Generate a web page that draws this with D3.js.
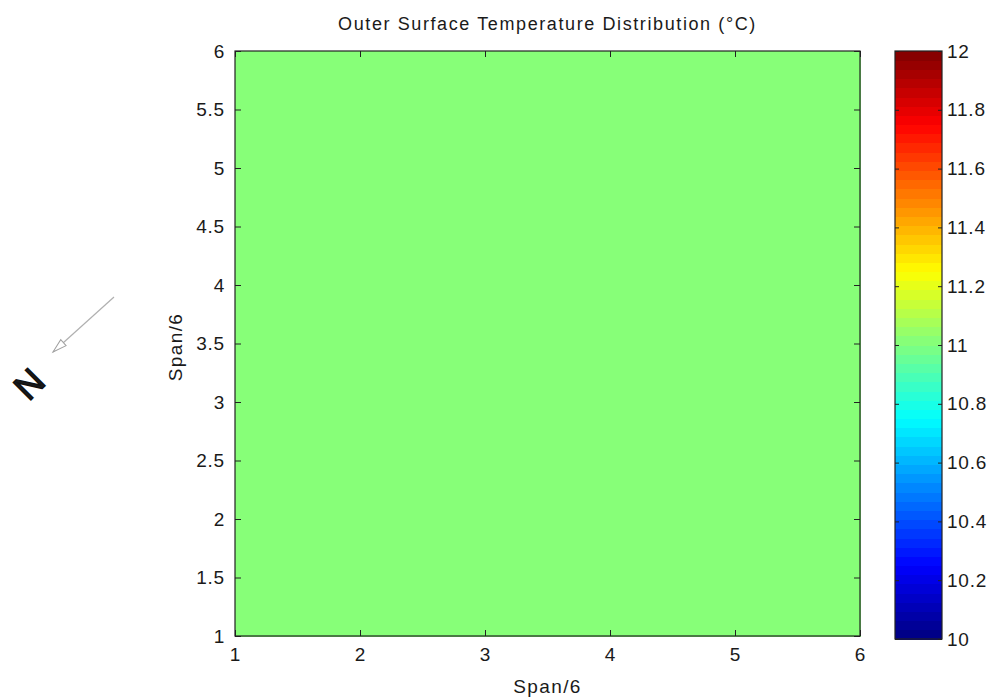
<!DOCTYPE html>
<html>
<head>
<meta charset="utf-8">
<script src="https://cdn.jsdelivr.net/npm/d3@7/dist/d3.min.js"></script>
<style>
  html, body { margin: 0; padding: 0; background: #fff; }
  svg { display: block; }
  text { font-family: Arial, "Liberation Sans", sans-serif; fill: #1a1a1a; }
</style>
</head>
<body>
<svg id="chart" width="994" height="700"></svg>
<script>
// Grid node positions (span / 6) and surface temperatures at each node (°C)
const spanX = [1, 2, 3, 4, 5, 6];
const spanY = [1, 2, 3, 4, 5, 6];
const temps = [
  [11.02, 11.02, 11.02, 11.02, 11.02, 11.02],
  [11.02, 11.02, 11.02, 11.02, 11.02, 11.02],
  [11.02, 11.02, 11.02, 11.02, 11.02, 11.02],
  [11.02, 11.02, 11.02, 11.02, 11.02, 11.02],
  [11.02, 11.02, 11.02, 11.02, 11.02, 11.02],
  [11.02, 11.02, 11.02, 11.02, 11.02, 11.02]
];
const xTicks = [1, 2, 3, 4, 5, 6];
const yTicks = [1, 1.5, 2, 2.5, 3, 3.5, 4, 4.5, 5, 5.5, 6];
const cTicks = [10, 10.2, 10.4, 10.6, 10.8, 11, 11.2, 11.4, 11.6, 11.8, 12];
const cLimits = [10, 12];

const svg = d3.select("#chart");
const FONT = "Arial, 'Liberation Sans', sans-serif";

// 64-step jet colormap
const nColors = 64;
function jet(t) {
  const c = v => Math.max(0, Math.min(1, v));
  const r = c(1.5 - Math.abs(4 * t - 3));
  const g = c(1.5 - Math.abs(4 * t - 2));
  const b = c(1.5 - Math.abs(4 * t - 1));
  return d3.rgb(r * 255, g * 255, b * 255).formatHex();
}
const jetTable = d3.range(nColors).map(i => jet((i + 0.5) / nColors));
const colorOf = v => {
  let i = Math.floor((v - cLimits[0]) / (cLimits[1] - cLimits[0]) * nColors);
  i = Math.max(0, Math.min(nColors - 1, i));
  return jetTable[i];
};

const x = d3.scaleLinear().domain([1, 6]).range([235, 860]);
const y = d3.scaleLinear().domain([1, 6]).range([636, 51]);
const cScale = d3.scaleLinear().domain(cLimits).range([639, 51]);

// pcolor-style cells: each cell takes the value at its lower-left node
const cells = [];
for (let j = 0; j < spanY.length - 1; j++) {
  for (let i = 0; i < spanX.length - 1; i++) {
    cells.push({ x0: spanX[i], x1: spanX[i + 1], y0: spanY[j], y1: spanY[j + 1], v: temps[j][i] });
  }
}
svg.append("g").selectAll("rect").data(cells).join("rect")
  .attr("x", d => x(d.x0))
  .attr("y", d => y(d.y1))
  .attr("width", d => x(d.x1) - x(d.x0) + 0.5)
  .attr("height", d => y(d.y0) - y(d.y1) + 0.5)
  .attr("fill", d => colorOf(d.v))
  .attr("shape-rendering", "crispEdges");

// Axes with inward ticks on all four sides
const tickLen = 6;
const axisStyle = g => {
  g.select(".domain").remove();
  g.selectAll(".tick line").attr("stroke", "#222");
  g.selectAll(".tick text").attr("font-size", 19).attr("fill", "#1a1a1a")
    .attr("letter-spacing", "0.8px")
    .attr("font-family", FONT);
};
svg.append("g").attr("transform", `translate(0,${y(1)})`)
  .call(d3.axisBottom(x).tickValues(xTicks).tickFormat(d3.format("d"))
    .tickSizeInner(-tickLen).tickSizeOuter(0).tickPadding(12))
  .call(axisStyle);
svg.append("g").attr("transform", `translate(0,${y(6)})`)
  .call(d3.axisTop(x).tickValues(xTicks).tickFormat("")
    .tickSizeInner(-tickLen).tickSizeOuter(0))
  .call(axisStyle);
svg.append("g").attr("transform", `translate(${x(1)},0)`)
  .call(d3.axisLeft(y).tickValues(yTicks).tickFormat(d3.format("~g"))
    .tickSizeInner(-tickLen).tickSizeOuter(0).tickPadding(10))
  .call(axisStyle);
svg.append("g").attr("transform", `translate(${x(6)},0)`)
  .call(d3.axisRight(y).tickValues(yTicks).tickFormat("")
    .tickSizeInner(-tickLen).tickSizeOuter(0))
  .call(axisStyle);

svg.append("rect")
  .attr("x", x(1)).attr("y", y(6))
  .attr("width", x(6) - x(1)).attr("height", y(1) - y(6))
  .attr("fill", "none").attr("stroke", "#222").attr("stroke-width", 1.2);

// Colorbar
const cbX = 895, cbW = 47;
const bands = d3.range(nColors);
const bandH = (cScale(cLimits[0]) - cScale(cLimits[1])) / nColors;
svg.append("g").selectAll("rect").data(bands).join("rect")
  .attr("x", cbX)
  .attr("y", i => cScale(cLimits[0] + (i + 1) * (cLimits[1] - cLimits[0]) / nColors))
  .attr("width", cbW)
  .attr("height", bandH + 0.6)
  .attr("fill", i => jetTable[i])
  .attr("shape-rendering", "crispEdges");

svg.append("g").attr("transform", `translate(${cbX + cbW},0)`)
  .call(d3.axisRight(cScale).tickValues(cTicks).tickFormat(d3.format("~g"))
    .tickSizeInner(-4).tickSizeOuter(0).tickPadding(5))
  .call(axisStyle);
svg.append("g").attr("transform", `translate(${cbX},0)`)
  .call(d3.axisLeft(cScale).tickValues(cTicks).tickFormat("")
    .tickSizeInner(-4).tickSizeOuter(0))
  .call(axisStyle);
svg.append("rect")
  .attr("x", cbX).attr("y", cScale(cLimits[1]))
  .attr("width", cbW).attr("height", cScale(cLimits[0]) - cScale(cLimits[1]))
  .attr("fill", "none").attr("stroke", "#222").attr("stroke-width", 1.2);

// Title and axis labels
svg.append("text")
  .attr("x", (x(1) + x(6)) / 2).attr("y", 30)
  .attr("text-anchor", "middle").attr("font-size", 18)
  .attr("letter-spacing", "1.6px")
  .text("Outer Surface Temperature Distribution (°C)");
svg.append("text")
  .attr("x", (x(1) + x(6)) / 2).attr("y", 693)
  .attr("text-anchor", "middle").attr("font-size", 19)
  .attr("letter-spacing", "1.4px")
  .text("Span/6");
svg.append("text")
  .attr("transform", `translate(182,347) rotate(-90)`)
  .attr("text-anchor", "middle").attr("font-size", 19)
  .attr("letter-spacing", "1.4px")
  .text("Span/6");

// North arrow
const compass = svg.append("g");
compass.append("line")
  .attr("x1", 114).attr("y1", 297).attr("x2", 53).attr("y2", 352)
  .attr("stroke", "#b0b0b0").attr("stroke-width", 1.2);
compass.append("path")
  .attr("transform", "translate(53,352) rotate(-42)")
  .attr("d", "M0,0 L14,-4 L14,4 Z")
  .attr("fill", "#fff").attr("stroke", "#a0a0a0").attr("stroke-width", 1);
compass.append("text")
  .attr("transform", "translate(29,384) rotate(-45)")
  .attr("text-anchor", "middle").attr("dominant-baseline", "central")
  .attr("font-size", 36).attr("fill", "#111")
  .attr("stroke", "#111").attr("stroke-width", 1.4)
  .text("N");
</script>
</body>
</html>
